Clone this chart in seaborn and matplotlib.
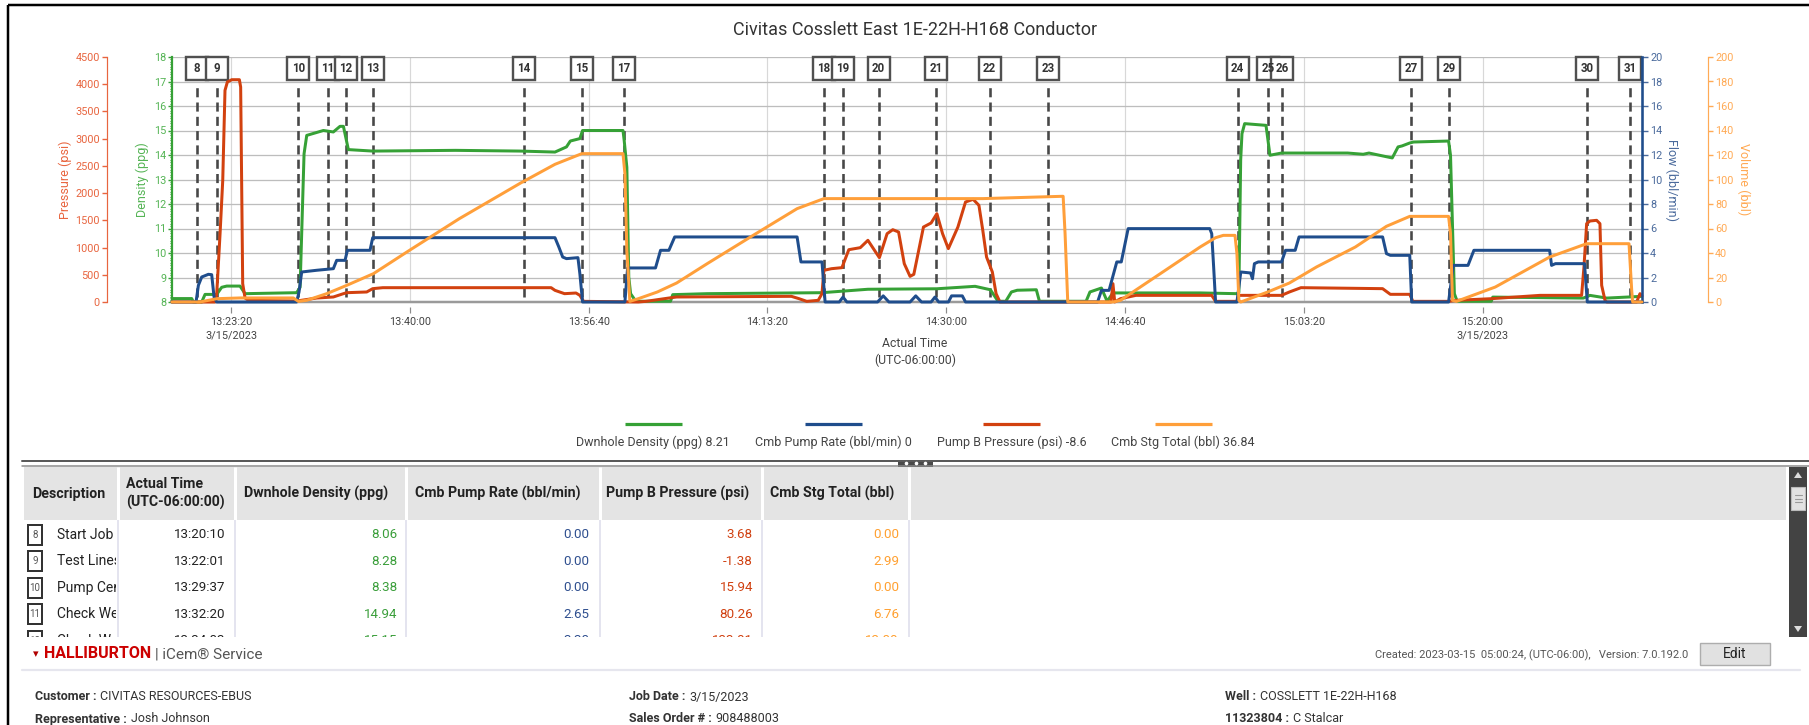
import matplotlib
matplotlib.use("Agg")
import matplotlib.pyplot as plt
import seaborn as sns
from matplotlib.patches import Rectangle, Polygon
from matplotlib.ticker import MultipleLocator
from matplotlib.transforms import blended_transform_factory, Bbox, TransformedBbox

# ---------------- data (time = minutes after 13:00:00 on 3/15/2023) ----------------
title = "Civitas Cosslett East 1E-22H-H168 Conductor"

t_density = [17.83, 19.67, 19.82, 20.6, 20.91, 22.0, 22.46, 22.93, 24.17, 24.64, 29.45, 29.77, 30.14, 30.39,
             31.94, 32.87, 33.49, 33.81, 34.27, 36.54, 44.26, 50.32, 53.53, 54.6, 54.96, 55.85, 56.1, 59.87,
             59.98, 60.23, 60.41, 60.58, 60.94, 61.3, 64.3, 64.51, 67.72, 78.42, 82.7, 89.13, 92.69, 94.12,
             94.83, 95.55, 96.08, 96.62, 98.4, 98.69, 103.04, 103.4, 104.47, 105.0, 105.54, 113.67, 117.1,
             117.28, 117.45, 117.57, 117.82, 119.81, 120.18, 121.26, 127.42, 128.87, 129.41, 131.58, 132.12,
             132.49, 133.21, 133.57, 136.83, 137.01, 137.37, 137.63, 140.81, 140.95, 149.39, 150.01, 151.57, 154.8]
density = [8.14, 8.14, 8.0, 8.0, 8.31, 8.31, 8.6, 8.65, 8.65, 8.34, 8.38, 8.6, 14.05, 14.8,
           15.0, 14.94, 15.17, 15.17, 14.22, 14.16, 14.19, 14.16, 14.12, 14.33, 14.57, 14.67, 15.0, 15.0,
           14.6, 13.5, 9.02, 8.34, 8.11, 8.03, 8.03, 8.3, 8.34, 8.38, 8.52, 8.54, 8.64, 8.5,
           8.03, 8.03, 8.41, 8.48, 8.5, 8.03, 8.03, 8.41, 8.57, 8.03, 8.37, 8.37, 8.34,
           8.4, 13.8, 14.87, 15.28, 15.21, 13.99, 14.08, 14.08, 14.03, 14.08, 13.88, 14.33,
           14.37, 14.49, 14.53, 14.57, 13.99, 8.34, 8.03, 8.03, 8.2, 8.16, 8.27, 8.16, 8.23]

t_flow = [17.83, 20.07, 20.29, 20.6, 21.22, 21.53, 21.75, 22.0, 29.45, 29.67, 29.92, 31.32, 32.87, 33.18,
          33.96, 34.18, 36.29, 36.54, 53.53, 53.89, 54.25, 54.6, 55.67, 55.85, 56.1, 60.05, 60.3, 62.9,
          63.37, 64.15, 64.69, 76.1, 76.46, 78.42, 78.71, 80.03, 80.38, 80.74, 83.6, 84.13, 84.66, 86.63,
          87.16, 87.7, 88.59, 88.95, 89.3, 90.2, 90.5, 91.5, 91.8, 104.11, 104.47, 105.18, 105.9, 106.32,
          106.96, 114.57, 114.75, 114.93, 115.11, 117.1, 117.28, 117.46, 118.37, 118.55, 118.73, 119.09,
          121.26, 121.63, 122.53, 122.89, 130.68, 131.04, 131.4, 133.21, 133.39, 136.83, 137.27, 138.64,
          139.19, 146.25, 146.43, 146.79, 149.5, 149.76, 154.86]
flow = [0, 0, 1.36, 2.04, 2.26, 2.23, 0.41, 0, 0, 0.82, 2.45, 2.59, 2.72, 3.4,
        3.4, 4.22, 4.22, 5.25, 5.25, 4.49, 3.67, 3.54, 3.62, 2.31, 0, 0, 2.78, 2.78,
        4.22, 4.22, 5.31, 5.31, 3.27, 3.27, 0, 0, 0.4, 0, 0, 0.5, 0, 0,
        0.5, 0, 0, 0.4, 0, 0, 0.5, 0.5, 0, 0, 0.95, 0.95, 3.27, 3.27,
        5.99, 5.99, 5.58, 2.86, 0, 0, 1.22, 2.45, 2.37, 1.9, 3.13, 3.27,
        3.27, 4.22, 4.22, 5.31, 5.31, 3.95, 3.81, 3.81, 0, 0, 2.99, 2.99,
        4.22, 4.22, 2.99, 3.13, 3.13, 0, 0]

t_pressure = [17.83, 21.84, 22.0, 22.31, 22.56, 22.77, 22.99, 23.4, 24.11, 24.23, 24.42, 24.64, 24.95,
              29.45, 31.32, 32.87, 33.81, 34.12, 35.98, 36.54, 37.48, 53.17, 53.53, 54.42, 55.49, 55.85,
              56.2, 61.3, 62.01, 64.15, 64.87, 75.57, 76.28, 77.0, 78.07, 78.42, 78.6, 79.31, 80.28, 80.92,
              81.99, 82.7, 83.77, 84.49, 85.02, 85.56, 86.09, 86.63, 86.98, 87.88, 88.59, 89.13, 89.66,
              90.2, 91.09, 91.8, 92.51, 93.05, 93.41, 93.76, 94.3, 94.65, 95.01, 105.36, 105.54, 105.71,
              106.25, 107.68, 114.75, 115.11, 117.1, 117.28, 121.26, 121.99, 123.07, 130.68, 131.4, 133.21,
              133.5, 136.83, 137.56, 140.81, 145.35, 149.23, 149.45, 149.7, 150.01, 150.63, 150.94, 151.1,
              151.41, 151.57, 154.36, 154.67, 154.86]
pressure = [0, 0, 153, 1255, 2235, 3887, 4040, 4083, 4083, 3949, 337, 73, 31,
            18, 73, 92, 153, 171, 184, 245, 263, 263, 214, 153, 165, 122,
            12, 0, 12, 73, 92, 104, 61, 12, 31, 153, 582, 612, 631, 961,
            998, 1133, 814, 1255, 1328, 1286, 704, 471, 508, 1377, 1451, 1622, 1255,
            980, 1377, 1837, 1886, 1775, 1316, 826, 551, 153, 0, 0, 337, 0,
            61, 122, 122, 12, 12, 122, 122, 184, 263, 245, 141, 141,
            12, 12, 31, 61, 122, 122, 643, 1439, 1488, 1500, 1439, 306,
            31, 0, 0, 153, 110]

t_volume = [17.83, 20.44, 22.0, 24.17, 29.14, 29.61, 30.39, 32.25, 34.12, 36.6, 39.97, 44.61, 50.32,
            53.53, 56.03, 59.87, 60.05, 60.23, 60.51, 61.3, 63.08, 64.87, 67.72, 72.0, 76.1, 78.6, 93.41,
            100.9, 101.08, 101.33, 105.54, 106.25, 113.67, 115.11, 115.83, 116.92, 117.1, 117.28, 117.46,
            119.98, 121.99, 124.52, 128.14, 131.04, 133.21, 136.83, 137.01, 137.19, 137.56, 141.18, 146.25,
            149.7, 153.65, 153.9, 153.99, 154.86]
volume = [0, 0, 2.7, 3.3, 3.3, 0.5, 1.4, 6.8, 13.6, 23.1, 42.2, 68.0, 97.1,
          112.4, 121.1, 121.1, 104.8, 42.2, 0.5, 2.7, 8.2, 15.5, 31.3, 54.4, 76.2, 84.4, 84.4,
          86.3, 55.8, 0, 0, 1.4, 44.9, 52.5, 54.4, 54.4, 39.5, 1.4, 0,
          8.2, 15.5, 28.6, 44.9, 61.8, 69.9, 69.9, 55.8, 1.4, 0.5, 12.2, 36.7,
          47.6, 47.6, 9.5, 0, 0]

event_ids = [8, 9, 10, 11, 12, 13, 14, 15, 17, 18, 19, 20, 21, 22, 23, 24, 25, 26, 27, 29, 30, 31]
event_minutes = [20.17, 22.02, 29.62, 32.33, 34.05, 36.57, 50.63, 56.05, 59.97, 78.6, 80.35, 83.7,
                 89.08, 94.05, 99.47, 117.17, 120.0, 121.3, 133.32, 136.85, 149.75, 153.77]

time_range = [17.83, 154.86]
x_tick_minutes = [23 + 1/3, 40, 56 + 2/3, 73 + 1/3, 90, 106 + 2/3, 123 + 1/3, 140]
x_tick_labels = ["13:23:20\n3/15/2023", "13:40:00", "13:56:40", "14:13:20", "14:30:00",
                 "14:46:40", "15:03:20", "15:20:00\n3/15/2023"]
x_label = "Actual Time\n(UTC-06:00:00)"
axis_labels = ["Pressure (psi)", "Density (ppg)", "Flow (bbl/min)", "Volume (bbl)"]

legend_names = ["Dwnhole Density (ppg)", "Cmb Pump Rate (bbl/min)", "Pump B Pressure (psi)", "Cmb Stg Total (bbl)"]
legend_current = ["8.21", "0", "-8.6", "36.84"]

table_headers = ["Description", "Actual Time\n(UTC-06:00:00)", "Dwnhole Density (ppg)",
                 "Cmb Pump Rate (bbl/min)", "Pump B Pressure (psi)", "Cmb Stg Total (bbl)"]
tbl_num = [8, 9, 10, 11, 12]
tbl_desc = ["Start Job", "Test Lines", "Pump Cement", "Check Weight", "Check Weight"]
tbl_time = ["13:20:10", "13:22:01", "13:29:37", "13:32:20", "13:34:03"]
tbl_density = [8.06, 8.28, 8.38, 14.94, 15.15]
tbl_rate = [0.00, 0.00, 0.00, 2.65, 3.30]
tbl_pressure = [3.68, -1.38, 15.94, 80.26, 133.81]
tbl_volume = [0.00, 2.99, 0.00, 6.76, 13.08]

footer_created = "Created: 2023-03-15  05:00:24, (UTC-06:00),   Version: 7.0.192.0"
footer_fields = [("Customer", "CIVITAS RESOURCES-EBUS"), ("Representative", "Josh Johnson"),
                 ("Job Date", "3/15/2023"), ("Sales Order #", "908488003"),
                 ("Well", "COSSLETT 1E-22H-H168"), ("11323804", "C Stalcar")]

# ---------------- style ----------------
sns.set_theme(style="white")
plt.rcParams['font.family'] = ['Roboto', 'DejaVu Sans']

C_DEN, C_FLOW, C_PRES, C_VOL = '#36A136', '#1F4D8C', '#D2410F', '#FF9F3A'
T_DEN, T_FLOW, T_PRES, T_VOL = '#55B455', '#4A6A9C', '#E8653F', '#FFAA55'
PX = 0.72  # points per pixel at dpi 100

W, H = 1809, 725
fig = plt.figure(figsize=(W / 100, H / 100), dpi=100, facecolor='white')
ov = fig.add_axes([0, 0, 1, 1], zorder=0)
ov.set_xlim(0, W)
ov.set_ylim(H, 0)
ov.axis('off')
ov.set_autoscale_on(False)

L, R, T, B = 172, 1642, 57, 302
ax = fig.add_axes([L / W, 1 - B / H, (R - L) / W, (B - T) / H], zorder=2)
ax.set_facecolor('white')
ax_p = ax.twinx()
ax_f = ax.twinx()
ax_v = ax.twinx()
for z, a in zip((3, 4, 5), (ax_p, ax_f, ax_v)):
    a.set_zorder(z)
    a.patch.set_visible(False)

line_kw = dict(estimator=None, sort=False, legend=False, linewidth=3 * PX, clip_on=False)
sns.lineplot(x=t_density, y=density, ax=ax, color=C_DEN, zorder=4, **line_kw)
sns.lineplot(x=t_pressure, y=pressure, ax=ax_p, color=C_PRES, **line_kw)
sns.lineplot(x=t_flow, y=flow, ax=ax_f, color=C_FLOW, **line_kw)
sns.lineplot(x=t_volume, y=volume, ax=ax_v, color=C_VOL, **line_kw)

for a in (ax, ax_p, ax_f, ax_v):
    a.set_xlabel('')
    a.set_ylabel('')

# grid & ticks
ax.yaxis.set_major_locator(MultipleLocator(1))
ax.yaxis.set_minor_locator(MultipleLocator(0.1))
ax.set_xticks(x_tick_minutes)
ax.set_xticklabels(x_tick_labels)
ax.grid(True, axis='y', which='major', color='#BDBDBD', lw=1.3 * PX)
ax.grid(True, axis='x', which='major', color='#D8D8D8', lw=1.2 * PX)
ax.set_axisbelow(True)
ax.tick_params(axis='x', length=0, pad=11, labelsize=7.8, labelcolor='#444444')
for lab in ax.get_xticklabels():
    lab.set_linespacing(1.45)

ax.tick_params(axis='y', which='major', left=True, length=4 * PX, width=1, color=C_DEN,
               labelcolor=T_DEN, labelsize=7.8, pad=1)
ax.tick_params(axis='y', which='minor', left=True, length=2.5 * PX, width=0.8, color=C_DEN)
for s in ('top', 'right'):
    ax.spines[s].set_visible(False)
ax.spines['left'].set_color(C_DEN)
ax.spines['left'].set_linewidth(2.2 * PX)
ax.spines['bottom'].set_color('#9A9A9A')
ax.spines['bottom'].set_linewidth(2.5 * PX)

for a in (ax_p, ax_f, ax_v):
    for s in ('top', 'bottom', 'left', 'right'):
        a.spines[s].set_visible(False)

ax_p.yaxis.set_ticks_position('left')
ax_p.spines['left'].set_visible(True)
ax_p.spines['left'].set_position(('outward', 65 * PX))
ax_p.spines['left'].set_color(T_PRES)
ax_p.spines['left'].set_linewidth(1.2 * PX)
ax_p.yaxis.set_major_locator(MultipleLocator(500))
ax_p.tick_params(axis='y', length=5 * PX, width=1, color=T_PRES, labelcolor=T_PRES, labelsize=7.8, pad=1.5)

ax_f.spines['right'].set_visible(True)
ax_f.spines['right'].set_color(C_FLOW)
ax_f.spines['right'].set_linewidth(2.6 * PX)
ax_f.yaxis.set_major_locator(MultipleLocator(2))
ax_f.tick_params(axis='y', length=6 * PX, width=1, color=T_FLOW, labelcolor=T_FLOW, labelsize=7.8, pad=1.5)

ax_v.spines['right'].set_visible(True)
ax_v.spines['right'].set_position(('outward', 66 * PX))
ax_v.spines['right'].set_color(T_VOL)
ax_v.spines['right'].set_linewidth(1.2 * PX)
ax_v.yaxis.set_major_locator(MultipleLocator(20))
ax_v.tick_params(axis='y', length=5 * PX, width=1, color=T_VOL, labelcolor=T_VOL, labelsize=7.8, pad=1.5)

tr = blended_transform_factory(ax.transData, ax.transAxes)
ax.vlines(x_tick_minutes, -11 / (B - T), -5 / (B - T), transform=tr, colors='#8C8C8C',
          lw=1.2 * PX, clip_on=False)

# event markers
px_per_min = (R - L) / (time_range[1] - time_range[0])
bw = 22 / px_per_min
y_box0 = (B - 80) / (B - T)
for n, tm in zip(event_ids, event_minutes):
    ax.plot([tm, tm], [(B - 297) / (B - T), (B - 87) / (B - T)], transform=tr, color='#474747',
            lw=2.6 * PX, dashes=(3.5, 2.0), zorder=2, clip_on=False)
    ax.add_patch(Rectangle((tm - bw / 2, y_box0), bw, 1 - y_box0, transform=tr, fc='white',
                           ec='#505050', lw=2.4 * PX, zorder=2.2, clip_on=False))
    ax.text(tm, (1 + y_box0) / 2, str(n), transform=tr, ha='center', va='center', fontsize=8.3,
            fontweight='bold', color='#333333', zorder=2.3)

ax.set_xlim(*time_range)
ax.set_ylim(8, 18)
ax_p.set_ylim(0, 4500)
ax_f.set_ylim(0, 20)
ax_v.set_ylim(0, 200)

# ---------------- chrome / overlay ----------------
renderer = fig.canvas.get_renderer()
ov.plot([8, 8], [5, H], color='black', lw=2.5 * PX, solid_capstyle='butt')
ov.plot([8, W], [5, 5], color='black', lw=2.5 * PX, solid_capstyle='butt')

ov.text(915, 30, title, ha='center', va='center', fontsize=13, color='#333333')
mid = (T + B) / 2
ov.text(65, mid, axis_labels[0], rotation=90, ha='center', va='center', fontsize=9, color=T_PRES)
ov.text(142.5, mid, axis_labels[1], rotation=90, ha='center', va='center', fontsize=9, color=T_DEN)
ov.text(1672, mid, axis_labels[2], rotation=270, ha='center', va='center', fontsize=9, color=T_FLOW)
ov.text(1743.5, mid, axis_labels[3], rotation=270, ha='center', va='center', fontsize=9, color=T_VOL)
ov.text(915, 352, x_label, ha='center', va='center', fontsize=8.8, color='#444444', linespacing=1.35)

# legend (line above text, centered row)
leg_colors = [C_DEN, C_FLOW, C_PRES, C_VOL]
leg_texts = [ov.text(0, 442, f"{nm} {cv}", ha='center', va='center', fontsize=9, color='#444444')
             for nm, cv in zip(legend_names, legend_current)]
widths = [t.get_window_extent(renderer).width for t in leg_texts]
gap = 25
xpos = 915.5 - (sum(widths) + gap * (len(widths) - 1)) / 2
for t, w, c in zip(leg_texts, widths, leg_colors):
    cx = xpos + w / 2
    t.set_x(cx)
    ov.plot([cx - 28.5, cx + 28.5], [424, 424], color=c, lw=3.2 * PX, solid_capstyle='butt')
    xpos += w + gap

# splitter
ov.plot([22, W], [461, 461], color='#5A5A5A', lw=2 * PX)
ov.plot([22, W], [465.5, 465.5], color='#8A8A8A', lw=1.5 * PX)
ov.add_patch(Rectangle((898, 459.5), 35, 7, fc='#4A4A4A', ec='none'))
ov.plot([906, 915.5, 925], [463, 463, 463], 'o', ms=1.6, color='white')

# table
hdr_top, hdr_bot, body_bot = 467, 520, 637
ov.add_patch(Rectangle((24, hdr_top), 1786 - 24, hdr_bot - hdr_top, fc='#E4E4E4', ec='none'))
col_lines = [118, 235, 406, 600, 762, 909]
ov.vlines(col_lines, hdr_top, hdr_bot, colors='white', lw=3 * PX)
ov.vlines(col_lines, hdr_bot, body_bot, colors='#DCDCEA', lw=1.5 * PX)
hdr_x = [32, 126, 244, 415, 606, 770]
for hx, htxt in zip(hdr_x, table_headers):
    ov.text(hx, 493.5, htxt, ha='left', va='center', fontsize=10.2, fontweight='bold',
            color='#222222', linespacing=1.3)

body_clip = TransformedBbox(Bbox.from_extents(24, hdr_bot, 1786, body_bot), ov.transData)
desc_clip = TransformedBbox(Bbox.from_extents(24, hdr_bot, 116, body_bot), ov.transData)
val_x = [225, 397, 589, 753, 899]
val_colors = ['#222222', '#3A9E3A', '#2F4F8F', '#D04010', '#FFA030']
for i, n in enumerate(tbl_num):
    y = 535 + i * 26.4
    bx = Rectangle((28, y - 10), 14, 20, fc='white', ec='#333333', lw=2 * PX)
    ov.add_patch(bx)
    bx.set_clip_box(body_clip)
    bx.set_clip_on(True)
    t = ov.text(35, y, str(n), ha='center', va='center', fontsize=7, color='#555555')
    t.set_clip_box(body_clip); t.set_clip_on(True)
    t = ov.text(57, y, tbl_desc[i], ha='left', va='center', fontsize=10, color='#222222')
    t.set_clip_box(desc_clip); t.set_clip_on(True)
    vals = [tbl_time[i], f"{tbl_density[i]:.2f}", f"{tbl_rate[i]:.2f}",
            f"{tbl_pressure[i]:.2f}", f"{tbl_volume[i]:.2f}"]
    for vx, vs, vc in zip(val_x, vals, val_colors):
        t = ov.text(vx, y, vs, ha='right', va='center', fontsize=9.6, color=vc)
        t.set_clip_box(body_clip); t.set_clip_on(True)

# scrollbar
ov.add_patch(Rectangle((1789, hdr_top), 18, body_bot - hdr_top, fc='#434343', ec='none'))
ov.add_patch(Rectangle((1791, 487), 14, 23, fc='#E2E2E2', ec='#BBBBBB', lw=0.8))
for yy in (495, 498.5, 502):
    ov.plot([1794.5, 1801.5], [yy, yy], color='#9A9A9A', lw=0.8)
ov.add_patch(Polygon([(1794, 478), (1802, 478), (1798, 472)], fc='#DDDDDD', ec='none'))
ov.add_patch(Polygon([(1794, 626), (1802, 626), (1798, 632)], fc='#DDDDDD', ec='none'))

# footer
ov.text(36, 654, "\u25BE", ha='center', va='center', fontsize=8, color='#B00000',
        family=['DejaVu Sans'])
hb = ov.text(44, 654, "HALLIBURTON", ha='left', va='center', fontsize=11.5, fontweight='bold',
             color='#CC0000')
hw = hb.get_window_extent(renderer).width
ov.text(44 + hw + 4, 654, "| iCem\u00AE Service", ha='left', va='center', fontsize=11,
        color='#555555')
ov.text(1688, 655, footer_created, ha='right', va='center', fontsize=8, color='#555555')
ov.add_patch(Rectangle((1700, 643), 70, 22, fc='#E1E1E1', ec='#ADADAD', lw=1))
ov.text(1735, 654, "Edit", ha='center', va='center', fontsize=10, color='#222222')
ov.plot([22, 1800], [670, 670], color='#E6E6EE', lw=2.2 * PX)

field_pos = [(35, 697), (35, 719), (629, 697), (629, 719), (1225, 697), (1225, 719)]
for (fx_, fy_), (lab, val) in zip(field_pos, footer_fields):
    t1 = ov.text(fx_, fy_, lab + " :", ha='left', va='center', fontsize=9, fontweight='bold',
                 color='#333333')
    w1 = t1.get_window_extent(renderer).width
    ov.text(fx_ + w1 + 4, fy_, val, ha='left', va='center', fontsize=9, color='#333333')

fig.savefig("out.png", dpi=100, facecolor='white')
